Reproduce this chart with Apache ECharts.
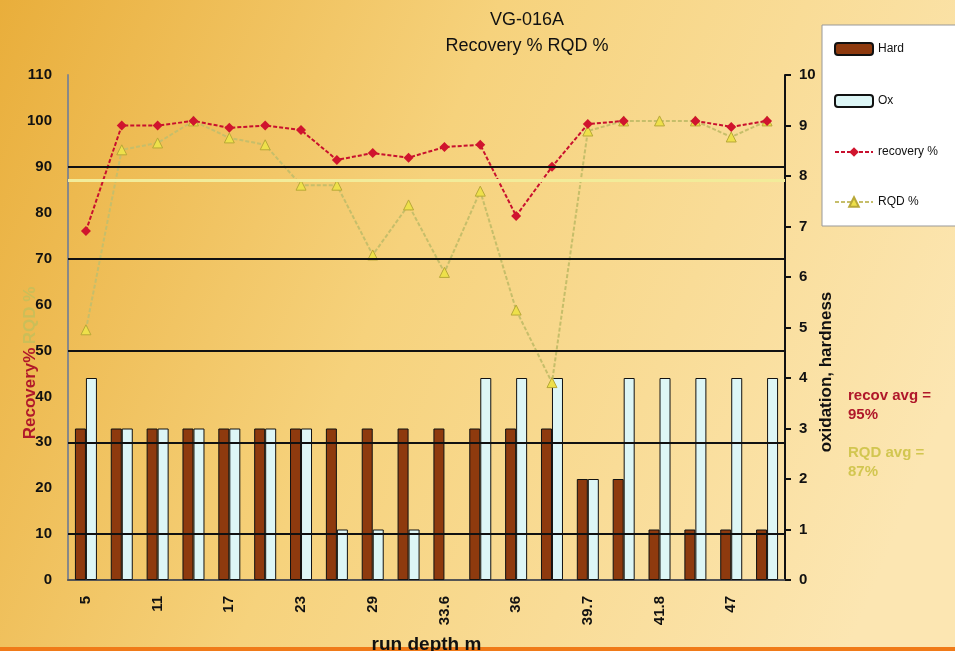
<!DOCTYPE html>
<html>
<head>
<meta charset="utf-8">
<script src="https://cdn.jsdelivr.net/npm/echarts@6/dist/echarts.min.js"></script>
<style>
  html, body { margin: 0; padding: 0; }
  #main { width: 955px; height: 651px; }
</style>
</head>
<body>
<div id="main"></div>
<script>
// run depths (m)
var depths = ['5', '8', '11', '14', '17', '20', '23', '26', '29', '32', '33.6', '35', '36', '37.5', '39.7', '40.5', '41.8', '44', '47', '50']
// right axis (0-10)
var hard = [3, 3, 3, 3, 3, 3, 3, 3, 3, 3, 3, 3, 3, 3, 2, 2, 1, 1, 1, 1]
var ox = [4, 3, 3, 3, 3, 3, 3, 1, 1, 1, null, 4, 4, 4, 2, 4, 4, 4, 4, 4]
// left axis (%)
var recovery = [76, 99, 99, 100, 98.5, 99, 98, 91.5, 93, 92, 94.3, 94.8, 79.3, 90, 99.3, 100, null, 100, 98.7, 100]
var rqd = [54.5, 93.7, 95.2, 100, 96.3, 94.8, 86, 86, 70.8, 81.7, 67, 84.7, 58.8, 43, 97.8, 100, 100, 100, 96.5, 100]
var gridLines = [10, 30, 50, 70, 90]
var rqdAvg = 87
var recAvg = 95

var font = 'Liberation Sans'
var chart = echarts.init(document.getElementById('main'))

var option = {
  backgroundColor: {
    type: 'linear', x: 0, y: 0, x2: 1, y2: 0.6,
    colorStops: [
      { offset: 0, color: '#E9AE3B' },
      { offset: 0.45, color: '#F6D27C' },
      { offset: 1, color: '#FCE6B2' }
    ]
  },
  title: {
    text: 'VG-016A\nRecovery % RQD %',
    left: 522,
    top: 2,
    textAlign: 'center',
    textStyle: { fontFamily: font, fontSize: 18, fontWeight: 'normal', color: '#111', lineHeight: 26 }
  },
  legend: {
    orient: 'vertical',
    left: 822,
    top: 25,
    backgroundColor: '#fff',
    borderColor: '#999',
    borderWidth: 1,
    padding: [17, 60, 18, 12],
    itemGap: 38,
    itemWidth: 38,
    itemHeight: 12,
    textStyle: { fontFamily: font, fontSize: 12, color: '#111' },
    data: ['Hard', 'Ox', 'recovery %', 'RQD %']
  },
  grid: { left: 68, right: 170, top: 75, bottom: 71, outerBoundsMode: 'none' },
  xAxis: {
    type: 'category',
    data: depths,
    name: 'run depth m',
    nameLocation: 'middle',
    nameGap: 55,
    nameTextStyle: { fontFamily: font, fontSize: 19, fontWeight: 'bold', color: '#111' },
    axisLine: { lineStyle: { color: '#555', width: 2 } },
    axisTick: { show: false },
    axisLabel: { interval: 1, rotate: 90, fontFamily: font, fontSize: 15, fontWeight: 'bold', color: '#111', margin: 16 }
  },
  yAxis: [
    {
      type: 'value',
      min: 0,
      max: 110,
      interval: 10,
      axisLine: { show: true, lineStyle: { color: '#888', width: 2 } },
      axisTick: { show: false },
      splitLine: { show: false },
      axisLabel: { fontFamily: font, fontSize: 15, fontWeight: 'bold', color: '#111', margin: 16 }
    },
    {
      type: 'value',
      min: 0,
      max: 10,
      interval: 1,
      position: 'right',
      axisLine: { show: true, lineStyle: { color: '#111', width: 2 } },
      axisTick: { show: true, length: 6, lineStyle: { color: '#111', width: 2 } },
      splitLine: { show: false },
      axisLabel: { fontFamily: font, fontSize: 15, fontWeight: 'bold', color: '#111', margin: 14 }
    }
  ],
  graphic: [
    {
      type: 'text',
      x: 30, y: 363,
      rotation: Math.PI / 2,
      style: {
        text: '{a|Recovery%} {b|RQD %}',
        align: 'center',
        verticalAlign: 'middle',
        rich: {
          a: { fontFamily: font, fontSize: 17, fontWeight: 'bold', fill: '#B0182A' },
          b: { fontFamily: font, fontSize: 17, fontWeight: 'bold', fill: '#CBBE58' }
        }
      }
    },
    {
      type: 'text',
      x: 826, y: 372,
      rotation: Math.PI / 2,
      style: { text: 'oxidation, hardness', align: 'center', verticalAlign: 'middle', font: 'bold 17px ' + font, fill: '#111' }
    },
    {
      type: 'text',
      left: 848, top: 386,
      style: { text: 'recov avg =\n' + recAvg + '%', font: 'bold 15px ' + font, fill: '#B0182A', lineHeight: 19 }
    },
    {
      type: 'text',
      left: 848, top: 443,
      style: { text: 'RQD avg =\n' + rqdAvg + '%', font: 'bold 15px ' + font, fill: '#D2C650', lineHeight: 19 }
    },
    {
      type: 'rect',
      left: 0, top: 647,
      shape: { width: 955, height: 4 },
      style: { fill: '#F07A18' }
    }
  ],
  series: [
    {
      // black horizontal lines behind the bars
      name: 'grid',
      type: 'line',
      yAxisIndex: 0,
      data: [],
      z: 1,
      markLine: {
        silent: true,
        symbol: 'none',
        label: { show: false },
        lineStyle: { color: '#111', width: 2, type: 'solid' },
        data: gridLines.map(function (v) { return { yAxis: v } })
      }
    },
    {
      name: 'Hard',
      type: 'bar',
      yAxisIndex: 1,
      data: hard,
      barWidth: 11,
      barGap: '0%',
      itemStyle: { color: '#8E3A0E', borderColor: '#111', borderWidth: 1 }
    },
    {
      name: 'Ox',
      type: 'bar',
      yAxisIndex: 1,
      data: ox,
      barWidth: 11,
      itemStyle: { color: '#DDF6F6', borderColor: '#111', borderWidth: 1 }
    },
    {
      name: 'RQD %',
      type: 'line',
      yAxisIndex: 0,
      data: rqd,
      symbol: 'triangle',
      symbolSize: 10,
      z: 3,
      lineStyle: { color: '#C6BE6A', width: 2, type: [4, 2] },
      itemStyle: { color: '#EEE04A', borderColor: '#B8A838', borderWidth: 1 },
      markLine: {
        silent: true,
        symbol: 'none',
        label: { show: false },
        lineStyle: { color: '#F2EC9A', width: 3, type: 'solid' },
        data: [{ yAxis: rqdAvg }]
      }
    },
    {
      name: 'recovery %',
      type: 'line',
      yAxisIndex: 0,
      data: recovery,
      symbol: 'diamond',
      symbolSize: 10,
      z: 4,
      lineStyle: { color: '#C8102E', width: 2, type: [4, 2] },
      itemStyle: { color: '#D0142E' }
    }
  ]
}

chart.setOption(option)
</script>
</body>
</html>
